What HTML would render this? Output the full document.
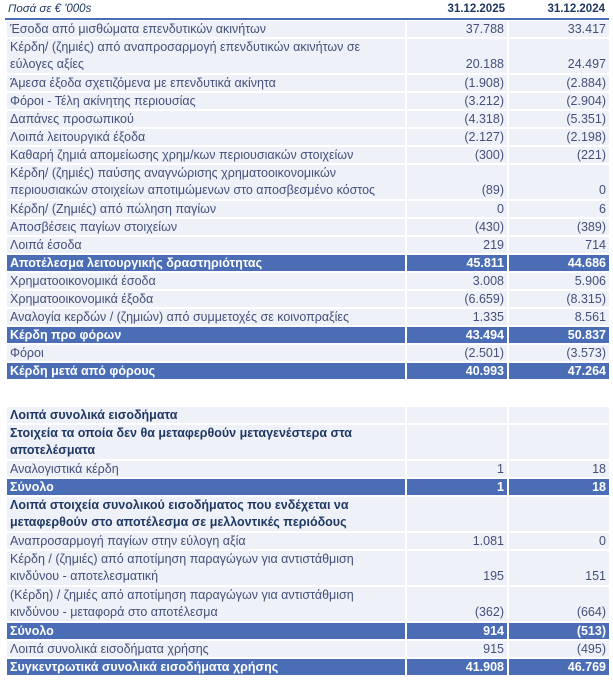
<!DOCTYPE html>
<html><head><meta charset="utf-8">
<style>
body{margin:0;background:#fff;width:613px;height:685px;overflow:hidden;font-family:"Liberation Sans","DejaVu Sans",sans-serif;}
.hdr{position:absolute;left:5px;top:0;width:604px;height:18px;border-bottom:2px solid #4a6db5;font-size:11.5px;}
.hdr span{position:absolute;top:3px;color:#1f3864;}
table{position:absolute;left:5px;width:604px;border-collapse:separate;border-spacing:2px;table-layout:fixed;font-size:12.5px;}
td{background:#eef1f8;color:#44507a;padding:0 3px;height:16px;line-height:16px;vertical-align:bottom;white-space:nowrap;overflow:hidden;}
td.n{text-align:right;}
tr.d td{height:34px;line-height:17px;white-space:normal;}
tr.b td{background:#4a6db5;color:#fff;font-weight:bold;}
tr.h td{font-weight:bold;color:#1f3864;}
</style></head><body>
<div class="hdr">
<span style="left:3px;font-style:italic">Ποσά σε € '000s</span>
<span style="right:104px;font-weight:bold">31.12.2025</span>
<span style="right:4px;font-weight:bold">31.12.2024</span>
</div>
<table style="top:19px">
<colgroup><col style="width:398px"><col style="width:100px"><col style="width:100px"></colgroup>
<tr><td>Έσοδα από μισθώματα επενδυτικών ακινήτων</td><td class="n">37.788</td><td class="n">33.417</td></tr>
<tr class="d"><td>Κέρδη/ (ζημιές) από αναπροσαρμογή επενδυτικών ακινήτων σε εύλογες αξίες</td><td class="n">20.188</td><td class="n">24.497</td></tr>
<tr><td>Άμεσα έξοδα σχετιζόμενα με επενδυτικά ακίνητα</td><td class="n">(1.908)</td><td class="n">(2.884)</td></tr>
<tr><td>Φόροι - Τέλη ακίνητης περιουσίας</td><td class="n">(3.212)</td><td class="n">(2.904)</td></tr>
<tr><td>Δαπάνες προσωπικού</td><td class="n">(4.318)</td><td class="n">(5.351)</td></tr>
<tr><td>Λοιπά λειτουργικά έξοδα</td><td class="n">(2.127)</td><td class="n">(2.198)</td></tr>
<tr><td>Καθαρή ζημιά απομείωσης χρημ/κων περιουσιακών στοιχείων</td><td class="n">(300)</td><td class="n">(221)</td></tr>
<tr class="d"><td>Κέρδη/ (ζημιές) παύσης αναγνώρισης χρηματοοικονομικών περιουσιακών στοιχείων αποτιμώμενων στο αποσβεσμένο κόστος</td><td class="n">(89)</td><td class="n">0</td></tr>
<tr><td>Κέρδη/ (Ζημιές) από πώληση παγίων</td><td class="n">0</td><td class="n">6</td></tr>
<tr><td>Αποσβέσεις παγίων στοιχείων</td><td class="n">(430)</td><td class="n">(389)</td></tr>
<tr><td>Λοιπά έσοδα</td><td class="n">219</td><td class="n">714</td></tr>
<tr class="b"><td>Αποτέλεσμα λειτουργικής δραστηριότητας</td><td class="n">45.811</td><td class="n">44.686</td></tr>
<tr><td>Χρηματοοικονομικά έσοδα</td><td class="n">3.008</td><td class="n">5.906</td></tr>
<tr><td>Χρηματοοικονομικά έξοδα</td><td class="n">(6.659)</td><td class="n">(8.315)</td></tr>
<tr><td>Αναλογία κερδών / (ζημιών) από συμμετοχές σε κοινοπραξίες</td><td class="n">1.335</td><td class="n">8.561</td></tr>
<tr class="b"><td>Κέρδη προ φόρων</td><td class="n">43.494</td><td class="n">50.837</td></tr>
<tr><td>Φόροι</td><td class="n">(2.501)</td><td class="n">(3.573)</td></tr>
<tr class="b"><td>Κέρδη μετά από φόρους</td><td class="n">40.993</td><td class="n">47.264</td></tr>
</table>
<table style="top:405px">
<colgroup><col style="width:398px"><col style="width:100px"><col style="width:100px"></colgroup>
<tr class="h"><td>Λοιπά συνολικά εισοδήματα</td><td></td><td></td></tr>
<tr class="d h"><td>Στοιχεία τα οποία δεν θα μεταφερθούν μεταγενέστερα στα αποτελέσματα</td><td></td><td></td></tr>
<tr><td>Αναλογιστικά κέρδη</td><td class="n">1</td><td class="n">18</td></tr>
<tr class="b"><td>Σύνολο</td><td class="n">1</td><td class="n">18</td></tr>
<tr class="d h"><td>Λοιπά στοιχεία συνολικού εισοδήματος που ενδέχεται να μεταφερθούν στο αποτέλεσμα σε μελλοντικές περιόδους</td><td></td><td></td></tr>
<tr><td>Αναπροσαρμογή παγίων στην εύλογη αξία</td><td class="n">1.081</td><td class="n">0</td></tr>
<tr class="d"><td>Κέρδη / (ζημιές) από αποτίμηση παραγώγων για αντιστάθμιση κινδύνου - αποτελεσματική</td><td class="n">195</td><td class="n">151</td></tr>
<tr class="d"><td>(Κέρδη) / ζημιές από αποτίμηση παραγώγων για αντιστάθμιση κινδύνου - μεταφορά στο αποτέλεσμα</td><td class="n">(362)</td><td class="n">(664)</td></tr>
<tr class="b"><td>Σύνολο</td><td class="n">914</td><td class="n">(513)</td></tr>
<tr><td>Λοιπά συνολικά εισοδήματα χρήσης</td><td class="n">915</td><td class="n">(495)</td></tr>
<tr class="b"><td>Συγκεντρωτικά συνολικά εισοδήματα χρήσης</td><td class="n">41.908</td><td class="n">46.769</td></tr>
</table>
</body></html>
